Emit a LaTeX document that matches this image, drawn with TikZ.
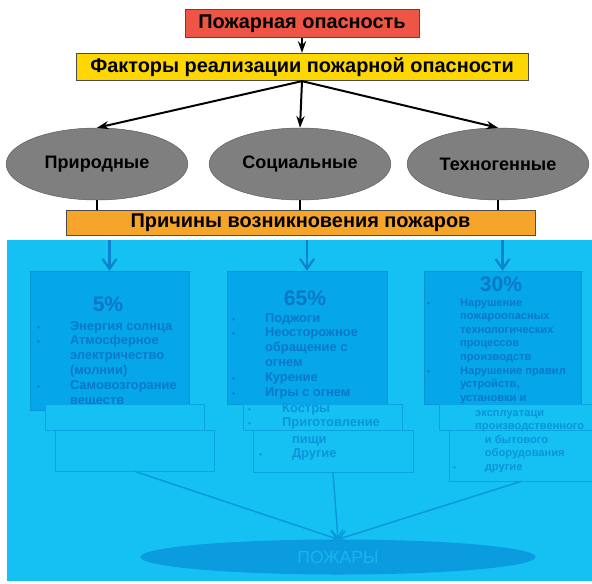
\documentclass[tikz,border=0pt]{standalone}
\usepackage{fontspec}
\setmainfont{Liberation Sans}
\usetikzlibrary{positioning,shapes.geometric,arrows.meta,fit}

\definecolor{dangerred}{HTML}{EE5544}
\definecolor{factoryellow}{HTML}{FFD700}
\definecolor{causeorange}{HTML}{F5A52A}
\definecolor{ovalgray}{HTML}{7F7F7F}
\definecolor{skycyan}{HTML}{15C0F2}
\definecolor{boxblue}{HTML}{05A7EA}
\definecolor{textblue}{HTML}{0A78C8}
\definecolor{fadeblue}{HTML}{0A95DB}
\definecolor{lineblue}{HTML}{0AA3E4}
\definecolor{arrowblue}{HTML}{0A84CE}
\definecolor{fireblue}{HTML}{0A9CDF}
\definecolor{firetext}{HTML}{1AB4EC}

\newcommand{\dotmark}{{\fontsize{7}{7}\selectfont •}}

\begin{document}
\begin{tikzpicture}[
    x=0.03cm, y=-0.03cm,
    every node/.style={font=\bfseries},
    topbox/.style={draw=black!70, thick, minimum height=0.82cm, font=\fontsize{17}{20}\selectfont\bfseries},
    oval/.style={ellipse, draw=black!65, fill=ovalgray, minimum width=5.45cm, minimum height=2.16cm, font=\fontsize{15.4}{18}\selectfont\bfseries},
    darkbox/.style={fill=boxblue, draw=boxblue!90!black, inner sep=0},
    lightbox/.style={fill=skycyan, draw=lineblue, inner sep=0},
    percent/.style={text=textblue, font=\fontsize{18}{20}\selectfont\bfseries},
    bullets/.style={anchor=base west, inner sep=0, text=textblue, font=\fontsize{11}{12.75}\selectfont\bfseries},
    smallbullets/.style={bullets, font=\fontsize{9.5}{11.65}\selectfont\bfseries},
    blackarrow/.style={-{Stealth[length=10pt,width=7pt]}, line width=1.7pt},
    bluearrow/.style={-{Straight Barb[length=8.5pt,width=12pt]}, line width=1.9pt, arrowblue},
    fadearrow/.style={-{Straight Barb[length=7pt,width=10pt]}, line width=1.2pt, lineblue!60!arrowblue}
]
\useasboundingbox (0,0) rectangle (592,583);

% 上部节点
\node[topbox, fill=dangerred, minimum width=7.02cm] (danger) at (302,23.5) {Пожарная опасность};
\node[topbox, fill=factoryellow, minimum width=13.56cm] (factors) at (302,67) {Факторы реализации пожарной опасности};

% 椭圆
\node[oval] (nat) at (97,164) {Природные};
\node[oval] (soc) at (300,164) {Социальные};
\node[oval] (tech) at (498,164) {Техногенные};

\node[topbox, fill=causeorange, minimum width=14.07cm, minimum height=0.72cm] (causes) at (300.5,223) {Причины возникновения пожаров};

% 连接线
\draw[blackarrow] (danger) -- (factors);
\draw[blackarrow] (factors.south) -- (nat.north);
\draw[blackarrow] (factors.south) -- (soc.north);
\draw[blackarrow] (factors.south) -- (tech.north);
\draw[line width=1.2pt] (nat.south) -- (nat.south |- causes.north);
\draw[line width=1.2pt] (soc.south) -- (soc.south |- causes.north);
\draw[line width=1.2pt] (tech.south) -- (tech.south |- causes.north);

% 蓝色背景
\node[fill=skycyan, inner sep=0, fit={(7,240) (592,581)}] (bg) {};

% 深色方框
\node[darkbox, fit={(30,271) (189,410)}] (natbox) {};
\node[darkbox, fit={(227,271) (387,404)}] (socbox) {};
\node[darkbox, fit={(424,271) (581,404)}] (techbox) {};

\node[percent] (natpct) at (108,304) {5\%};
\node[percent] (socpct) at (305,298) {65\%};
\node[percent] (techpct) at (501,284) {30\%};

\node[bullets] (natlist) at (37,330) {\begin{tabular}[t]{@{}p{28pt}@{}l@{}}
\dotmark & Энергия солнца\\
\dotmark & Атмосферное\\
 & электричество\\
 & (молнии)\\
\dotmark & Самовозгорание\\
 & веществ
\end{tabular}};
\node[bullets] (soclist) at (232,322) {\begin{tabular}[t]{@{}p{28pt}@{}l@{}}
\dotmark & Поджоги\\
\dotmark & Неосторожное\\
 & обращение с\\
 & огнем\\
\dotmark & Курение\\
\dotmark & Игры с огнем
\end{tabular}};
\node[smallbullets] (techlist) at (427,306) {\begin{tabular}[t]{@{}p{28pt}@{}l@{}}
\dotmark & Нарушение\\
 & пожароопасных\\
 & технологических\\
 & процессов\\
 & производств\\
\dotmark & Нарушение правил\\
 & устройств,\\
 & установки и
\end{tabular}};

% 浅色方框
\node[lightbox, fit={(45,404) (204,430)}] (natlowa) {};
\node[lightbox, fit={(55,430) (214,471)}] (natlowb) {};
\node[lightbox, fit={(243,404) (402,430)}] (soclowa) {};
\node[lightbox, fit={(253,430) (413,472)}] (soclowb) {};
\node[lightbox, fit={(439,404) (594,430)}] (techlowa) {};
\node[lightbox, fit={(449,430) (594,481)}] (techlowb) {};

\node[bullets, text=fadeblue] (soclista) at (248,412) {\begin{tabular}[t]{@{}p{29pt}@{}l@{}}
\dotmark & Костры\\
\dotmark & Приготовление
\end{tabular}};
\node[bullets, text=fadeblue] (soclistb) at (259,443) {\begin{tabular}[t]{@{}p{28pt}@{}l@{}}
 & пищи\\
\dotmark & Другие
\end{tabular}};
\node[smallbullets, text=fadeblue] (techlista) at (475,416) {\begin{tabular}[t]{@{}l@{}}
эксплуатаци\\
производственного
\end{tabular}};
\node[smallbullets, text=fadeblue] (techlistb) at (453,443) {\begin{tabular}[t]{@{}p{27pt}@{}l@{}}
 & и бытового\\
 & оборудования\\
\dotmark & другие
\end{tabular}};

% 底部椭圆
\node[ellipse, fill=fireblue, minimum width=11.85cm, minimum height=1.05cm, text=firetext, font=\fontsize{15}{18}\selectfont] (fires) at (338,557) {ПОЖАРЫ};

% 蓝色箭头
\draw[bluearrow] (bg.north -| natbox.north) -- (natbox.north);
\draw[bluearrow] (bg.north -| socbox.north) -- (socbox.north);
\draw[bluearrow] (bg.north -| techbox.north) -- (techbox.north);
\draw[fadearrow] (natlowb.south) -- (fires.north);
\draw[fadearrow] (soclowb.south) -- (fires.north);
\draw[fadearrow] (techlowb.south) -- (fires.north);

\end{tikzpicture}
\end{document}
